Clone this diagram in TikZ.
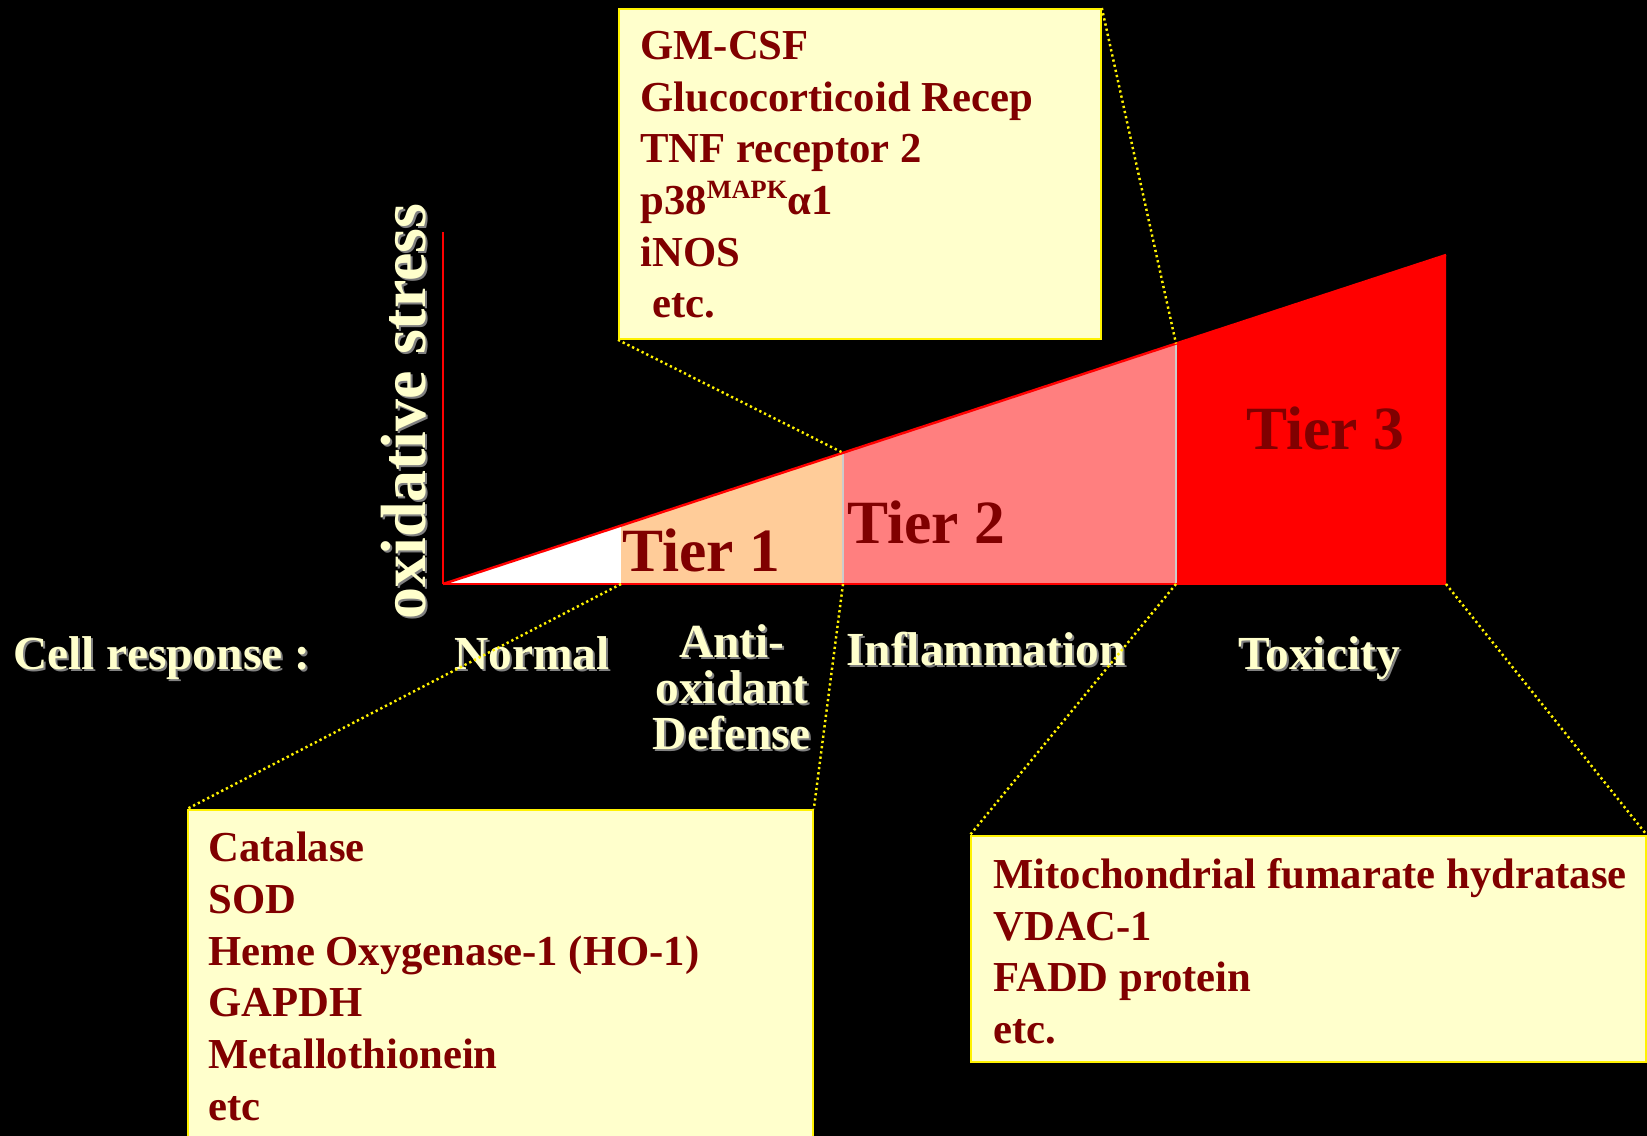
\documentclass[tikz,border=0pt]{standalone}
\usepackage{fontspec}
\setmainfont{Liberation Serif}
\usetikzlibrary{calc}
\definecolor{cream}{HTML}{FFFFCC}
\definecolor{maroon}{HTML}{800000}
\definecolor{peach}{HTML}{FFCC99}
\definecolor{pinkred}{HTML}{FF7F7F}

\begin{document}
\begin{tikzpicture}[x=0.02cm, y=-0.02cm,
  infobox/.style={draw=yellow, line width=1.1pt, fill=cream, inner sep=0pt, anchor=north west},
  listtext/.style={text=maroon, font=\fontsize{24.3}{29.4}\selectfont\bfseries, align=left, inner sep=0pt, anchor=north west},
  tierlabel/.style={text=maroon, font=\fontsize{35}{40}\selectfont\bfseries, inner sep=0pt},
  resp/.style={text=cream, font=\fontsize{27}{26.1}\selectfont\bfseries, inner sep=0pt, align=center},
  respshadow/.style={resp, text=gray},
  zoomline/.style={yellow, line width=1.4pt, dash pattern=on 1.3pt off 1.7pt}]

  \fill[black] (0,0) rectangle (1647,1136);
  \useasboundingbox (0,0) rectangle (1647,1136);

  % wedge: apex O, top edge rises 329 over 1003
  \coordinate (O) at (443,584);
  \coordinate (Ytop) at (443,232);
  \coordinate (T1) at (621,584);
  \coordinate (T1top) at (621,525.6);
  \coordinate (T2) at (843,584);
  \coordinate (T2top) at (843,452.8);
  \coordinate (T3) at (1176,584);
  \coordinate (T3top) at (1176,343.6);
  \coordinate (E) at (1446,584);
  \coordinate (Etop) at (1446,255);

  \fill[white] (O) -- (T1) -- (T1top) -- cycle;
  \fill[peach] (T1) -- (T2) -- (T2top) -- (T1top) -- cycle;
  \fill[pinkred] (T2) -- (T3) -- (T3top) -- (T2top) -- cycle;
  \fill[red] (T3) -- (E) -- (Etop) -- (T3top) -- cycle;
  \draw[gray!40, line width=0.7pt] (T2) -- (T2top);
  \draw[gray!40, line width=0.7pt] (T3) -- (T3top);
  \draw[red, line width=1.4pt] (O) -- (Etop);
  \draw[red, line width=1.3pt] (O) -- (E);
  \draw[red, line width=0.9pt] (O) -- (Ytop);

  \node[tierlabel] (tier1) at (701,550) {Tier 1};
  \node[tierlabel] (tier2) at (926,522) {Tier 2};
  \node[tierlabel] (tier3) at (1325,428) {Tier 3};

  % axis title and cell responses
  \node[respshadow, font=\fontsize{36.4}{40}\selectfont\bfseries, rotate=90, anchor=base] (stress-s) at (427,413.5) {oxidative stress};
  \node[resp, font=\fontsize{36.4}{40}\selectfont\bfseries, rotate=90, anchor=base] (stress) at (425,411.5) {oxidative stress};
  \node[respshadow, anchor=base west] (cellresp-s) at (15,671) {Cell response :};
  \node[resp, anchor=base west] (cellresp) at (13,669) {Cell response :};
  \node[respshadow, anchor=base] (normal-s) at (534,671) {Normal};
  \node[resp, anchor=base] (normal) at (532,669) {Normal};
  \node[respshadow, anchor=north] (antiox-s) at (734,626.5) {Anti-\\oxidant\\Defense};
  \node[resp, anchor=north] (antiox) at (732,624.5) {Anti-\\oxidant\\Defense};
  \node[respshadow, anchor=base] (inflam-s) at (988,667) {Inflammation};
  \node[resp, anchor=base] (inflam) at (986,665) {Inflammation};
  \node[respshadow, anchor=base] (toxic-s) at (1321,671) {Toxicity};
  \node[resp, anchor=base] (toxic) at (1319,669) {Toxicity};

  % protein lists
  \node[infobox, minimum width=9.64cm, minimum height=6.6cm] (topbox) at (618,8) {};
  \node[listtext] (toplist) at ([shift={(22,23)}]topbox.north west)
    {GM-CSF\\Glucocorticoid Recep\\TNF receptor 2\\p38\raisebox{0.38em}{\fontsize{15}{15}\selectfont MAPK}α1\\iNOS\\\hspace{0.28em}etc.};
  \node[infobox, minimum width=12.5cm, minimum height=6.8cm] (leftbox) at (187,809) {};
  \node[listtext] (leftlist) at ([shift={(21,23)}]leftbox.north west)
    {Catalase\\SOD\\Heme Oxygenase-1 (HO-1)\\GAPDH\\Metallothionein\\etc};
  \node[infobox, minimum width=13.5cm, minimum height=4.52cm] (rightbox) at (970,835) {};
  \node[listtext] (rightlist) at ([shift={(23,23)}]rightbox.north west)
    {Mitochondrial fumarate hydratase\\VDAC-1\\FADD protein\\etc.};

  \draw[zoomline] (topbox.south west) -- (T2top);
  \draw[zoomline] (topbox.north east) -- (T3top);
  \draw[zoomline] (T1) -- (leftbox.north west);
  \draw[zoomline] (T2) -- (leftbox.north east);
  \draw[zoomline] (T3) -- (rightbox.north west);
  \draw[zoomline] (E) -- (rightbox.north east);
\end{tikzpicture}
\end{document}
